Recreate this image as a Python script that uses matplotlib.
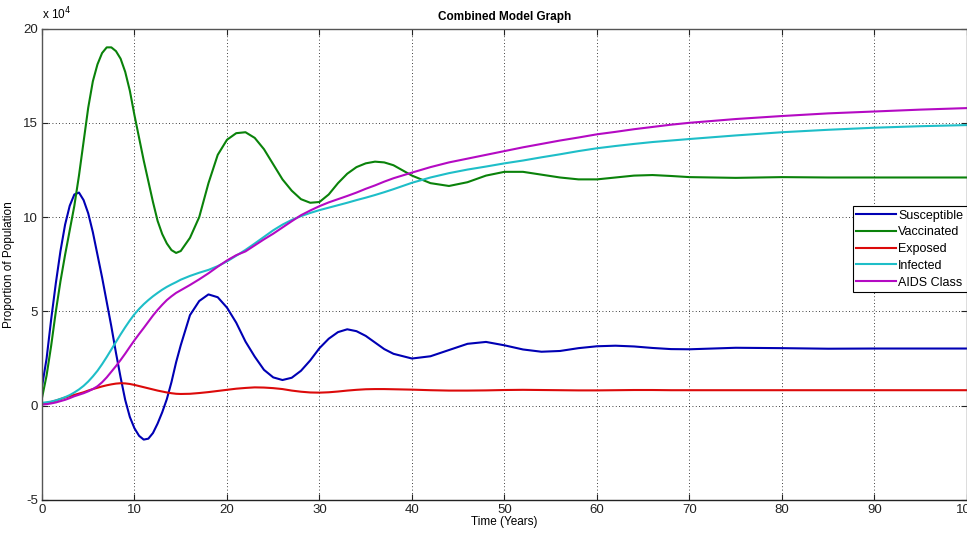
import numpy as np
import matplotlib
matplotlib.use('Agg')
import matplotlib.pyplot as plt

plt.rcParams['font.family'] = ['Liberation Sans', 'DejaVu Sans']
plt.rcParams['axes.unicode_minus'] = False

# time in years
t = [0, 0.5, 1, 1.5, 2, 2.5, 3, 3.5, 4, 4.5, 5, 5.5, 6, 6.5, 7, 7.5, 8, 8.5, 9, 9.5,
     10, 10.5, 11, 11.5, 12, 12.5, 13, 13.5, 14, 14.5, 15, 16, 17, 18, 19, 20, 21, 22,
     23, 24, 25, 26, 27, 28, 29, 30, 31, 32, 33, 34, 35, 36, 37, 38, 40, 42, 44, 46,
     48, 50, 52, 54, 56, 58, 60, 62, 64, 66, 68, 70, 75, 80, 85, 90, 95, 100]

# values in units of 1e4
susceptible = [1.0, 2.5, 4.6, 6.5, 8.2, 9.6, 10.6, 11.2, 11.3, 10.9, 10.2, 9.2, 8.0, 6.8,
               5.5, 4.2, 2.8, 1.5, 0.3, -0.6, -1.2, -1.6, -1.8, -1.75, -1.45, -0.95, -0.35,
               0.35, 1.25, 2.3, 3.2, 4.8, 5.55, 5.9, 5.75, 5.2, 4.4, 3.4, 2.6, 1.9, 1.5,
               1.36, 1.48, 1.85, 2.4, 3.05, 3.55, 3.9, 4.05, 3.95, 3.7, 3.35, 3.0, 2.75, 2.5,
               2.62, 2.95, 3.28, 3.38, 3.2, 2.98, 2.86, 2.9, 3.05, 3.15, 3.18, 3.14, 3.06, 3.0,
               2.99, 3.07, 3.05, 3.02, 3.03, 3.03, 3.03]
vaccinated = [0.4, 1.6, 3.2, 5.0, 6.6, 8.0, 9.3, 10.6, 12.2, 14.0, 15.8, 17.2, 18.1, 18.7,
              19.0, 19.0, 18.8, 18.4, 17.7, 16.7, 15.4, 14.2, 13.0, 11.9, 10.8, 9.8, 9.1,
              8.6, 8.25, 8.1, 8.2, 8.9, 10.0, 11.8, 13.3, 14.1, 14.45, 14.5, 14.2, 13.6,
              12.8, 12.0, 11.4, 10.95, 10.76, 10.8, 11.2, 11.8, 12.3, 12.65, 12.85, 12.94,
              12.9, 12.75, 12.2, 11.8, 11.65, 11.85, 12.2, 12.4, 12.4, 12.25, 12.1, 12.0,
              12.0, 12.1, 12.2, 12.23, 12.18, 12.12, 12.08, 12.12, 12.1, 12.1, 12.1, 12.1]
exposed = [0.1, 0.15, 0.2, 0.27, 0.35, 0.43, 0.5, 0.57, 0.64, 0.71, 0.8, 0.88, 0.95, 1.02,
           1.08, 1.13, 1.17, 1.19, 1.18, 1.15, 1.1, 1.04, 0.98, 0.92, 0.86, 0.8, 0.75,
           0.7, 0.66, 0.63, 0.62, 0.63, 0.67, 0.72, 0.78, 0.84, 0.9, 0.94, 0.97, 0.96,
           0.93, 0.88, 0.8, 0.74, 0.7, 0.69, 0.71, 0.75, 0.8, 0.84, 0.87, 0.88, 0.88,
           0.87, 0.85, 0.82, 0.8, 0.8, 0.81, 0.83, 0.84, 0.83, 0.82, 0.81, 0.81, 0.82,
           0.83, 0.83, 0.82, 0.82, 0.82, 0.82, 0.82, 0.82, 0.82, 0.82]
infected = [0.15, 0.18, 0.22, 0.28, 0.36, 0.45, 0.56, 0.7, 0.86, 1.05, 1.28, 1.55, 1.85,
            2.2, 2.58, 2.98, 3.38, 3.78, 4.16, 4.52, 4.85, 5.13, 5.38, 5.6, 5.8, 5.98,
            6.15, 6.3, 6.43, 6.55, 6.68, 6.88, 7.05, 7.2, 7.4, 7.65, 7.95, 8.26, 8.6,
            8.95, 9.3, 9.6, 9.85, 10.05, 10.22, 10.37, 10.5, 10.63, 10.76, 10.9, 11.03,
            11.17, 11.32, 11.48, 11.82, 12.1, 12.33, 12.52, 12.68, 12.85, 13.0, 13.17,
            13.33, 13.5, 13.65, 13.77, 13.88, 13.98, 14.06, 14.14, 14.33, 14.5, 14.63,
            14.74, 14.82, 14.88]
aids = [0.05, 0.08, 0.12, 0.17, 0.24, 0.31, 0.4, 0.5, 0.58, 0.66, 0.76, 0.88, 1.03, 1.24,
        1.5, 1.8, 2.1, 2.42, 2.76, 3.12, 3.47, 3.8, 4.12, 4.45, 4.78, 5.08, 5.35, 5.6,
        5.8, 5.98, 6.12, 6.4, 6.7, 7.02, 7.37, 7.7, 7.98, 8.18, 8.5, 8.82, 9.12, 9.45,
        9.78, 10.1, 10.35, 10.58, 10.78, 10.95, 11.12, 11.3, 11.5, 11.68, 11.88, 12.06,
        12.36, 12.65, 12.9, 13.1, 13.3, 13.5, 13.7, 13.88, 14.06, 14.22, 14.39, 14.52,
        14.66, 14.78, 14.9, 15.0, 15.2, 15.36, 15.5, 15.6, 15.7, 15.78]

names = ['Susceptible', 'Vaccinated', 'Exposed', 'Infected', 'AIDS Class']
colors = ['#0000b4', '#0a820a', '#dc0a0a', '#1ebec8', '#b40ac3']
series = [susceptible, vaccinated, exposed, infected, aids]

fig = plt.figure(figsize=(9.67, 5.33), dpi=100)
ax = fig.add_axes([0.0434, 0.062, 0.9566, 0.8845])

for y, name, c in zip(series, names, colors):
    ax.plot(t, y, color=c, lw=1.5, label=name)

ax.set_xlim(0, 100)
ax.set_ylim(-5, 20)
ax.set_xticks(np.arange(0, 101, 10))
ax.set_yticks(np.arange(-5, 21, 5))
ax.tick_params(direction='in', length=4, labelsize=9.5, top=True, right=True, pad=3,
               colors='#222222')
ax.grid(True, color='black', linestyle=(0, (1, 3)), linewidth=0.6)
for s in ax.spines.values():
    s.set_color('#555555')
    s.set_linewidth(1.0)
ax.spines['bottom'].set_color('#222222')

ax.set_title('Combined Model Graph', fontsize=8.5, fontweight='bold', pad=6)
ax.set_xlabel('Time (Years)', fontsize=8.5, labelpad=0)
ax.set_ylabel('Proportion of Population', fontsize=8.5, labelpad=6)
fig.text(0.0434, 0.958, r'x 10$^{4}$', fontsize=8.5, ha='left', va='bottom')

leg = ax.legend(loc='upper right', bbox_to_anchor=(1.0, 0.624), borderaxespad=0,
                fontsize=9, fancybox=False, framealpha=1, edgecolor='black',
                handlelength=3.2, handletextpad=0.15, labelspacing=0.38,
                borderpad=0.3)
leg.get_frame().set_linewidth(0.8)

fig.savefig('out.png', dpi=100)
